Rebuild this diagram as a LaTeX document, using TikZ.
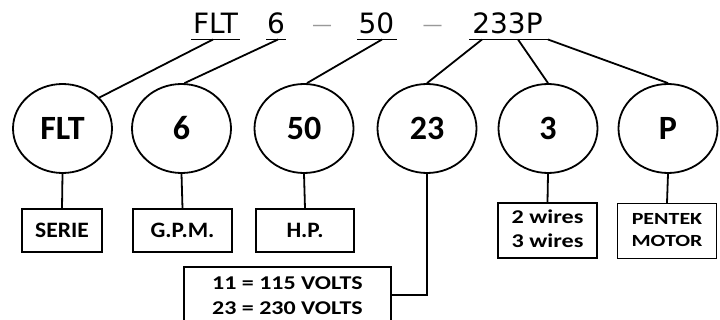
\documentclass[tikz,border=0pt]{standalone}
\usepackage{fontspec}
\setmainfont{Carlito}
\newfontfamily\titlefont{DejaVu Sans}
\usetikzlibrary{shapes.geometric}
\newcommand{\stretchtxt}[2]{\scalebox{#1}[1]{\begin{tabular}{@{}c@{}}#2\end{tabular}}}
\newcommand{\stretchleft}[2]{\scalebox{#1}[1]{\begin{tabular}{@{}l@{}}#2\end{tabular}}}
\begin{document}
\begin{tikzpicture}[x=1pt,y=-1pt,
  ttl/.style={inner sep=0pt,anchor=base,font=\titlefont\fontsize{28}{30}\selectfont},
  dsh/.style={inner sep=0pt,anchor=base,text=gray!80,font=\titlefont\fontsize{20}{22}\selectfont},
  ul/.style={line width=1.6pt},
  conn/.style={line width=1.8pt},
  oval/.style={ellipse,draw,line width=1.8pt,minimum width=99pt,minimum height=89pt,inner sep=0pt,font=\bfseries\fontsize{34}{36}\selectfont},
  lbl/.style={draw,line width=1.3pt,inner sep=0pt,minimum height=43pt,font=\bfseries\fontsize{22}{25}\selectfont},
  lbl2/.style={draw,line width=1.3pt,inner sep=0pt,minimum width=99pt,minimum height=55pt}
]
\useasboundingbox (0,0) rectangle (720,320);
% title
\node[ttl] (tflt) at (215.5,34) {FLT};
\node[ttl] (t6) at (276,34) {6};
\node[dsh] (d1) at (322,32) {—};
\node[ttl] (t50) at (376.5,34) {50};
\node[dsh] (d2) at (432.5,32) {—};
\node[ttl] (t233) at (507.5,34) {233P};
\coordinate (u1a) at (191,39.5); \coordinate (u1b) at (240,39.5);
\coordinate (u2a) at (266,39.5); \coordinate (u2b) at (286,39.5);
\coordinate (u3a) at (357,39.5); \coordinate (u3b) at (397,39.5);
\coordinate (u4a) at (469,39.5); \coordinate (u4b) at (548,39.5);
\draw[ul] (u1a) -- (u1b);
\draw[ul] (u2a) -- (u2b);
\draw[ul] (u3a) -- (u3b);
\draw[ul] (u4a) -- (u4b);
\coordinate (p1) at (213,39.5);
\coordinate (p2) at (278,39.5);
\coordinate (p3) at (382,39.5);
\coordinate (p4) at (482,39.5);
\coordinate (p5) at (518,39.5);
\coordinate (p6) at (548,39.5);
% ovals
\node[oval] (c1) at (62.5,128.5) {\raisebox{-2.5pt}{FLT}};
\node[oval] (c2) at (181.5,128.5) {\raisebox{-2.5pt}{6}};
\node[oval] (c3) at (304,128.5) {\raisebox{-2.5pt}{50}};
\node[oval] (c4) at (427,128.5) {\raisebox{-2.5pt}{23}};
\node[oval] (c5) at (548,128.5) {\raisebox{-2.5pt}{3}};
\node[oval] (c6) at (668,128.5) {\raisebox{-2.5pt}{P}};
\draw[conn] (p1) -- (c1.40);
\draw[conn] (p2) -- ([xshift=3pt]c2.north);
\draw[conn] (p3) -- ([xshift=3pt]c3.north);
\draw[conn] (p4) -- (c4.north);
\draw[conn] (p5) -- (c5.north);
\draw[conn] (p6) -- (c6.north);
% boxes
\node[lbl,minimum width=80pt] (b1) at (62,230.5) {\scalebox{1.07}[1]{SERIE}};
\node[lbl,minimum width=99pt] (b2) at (182.5,230.5) {\scalebox{1.06}[1]{G.P.M.}};
\node[lbl,minimum width=98pt] (b3) at (305,230.5) {\scalebox{1.06}[1]{H.P.}};
\node[lbl2,font=\bfseries\fontsize{19.5}{24.5}\selectfont] (b5) at (547.5,230.5) {\stretchtxt{1.24}{2 wires\\3 wires}};
\node[lbl2,font=\bfseries\fontsize{17}{22}\selectfont] (b6) at (667,231) {\stretchtxt{1.29}{PENTEK\\MOTOR}};
\node[draw,line width=1.3pt,minimum width=207pt,minimum height=63pt,inner sep=0pt] (vb) at (287.5,298.5) {};
\node[inner sep=0pt,anchor=west,font=\bfseries\fontsize{19.5}{25}\selectfont] (vt) at (212,297) {\stretchleft{1.23}{11 = 115 VOLTS\\23 = 230 VOLTS}};
\draw[conn] (c1.south) -- (b1.north);
\draw[conn] (c2.south) -- (b2.north);
\draw[conn] (c3.south) -- (b3.north);
\draw[conn] (c5.south) -- (b5.north);
\draw[conn] (c6.south) -- (b6.north);
\draw[conn] (c4.south) |- ([yshift=3.5pt]vb.east);
\end{tikzpicture}
\end{document}
